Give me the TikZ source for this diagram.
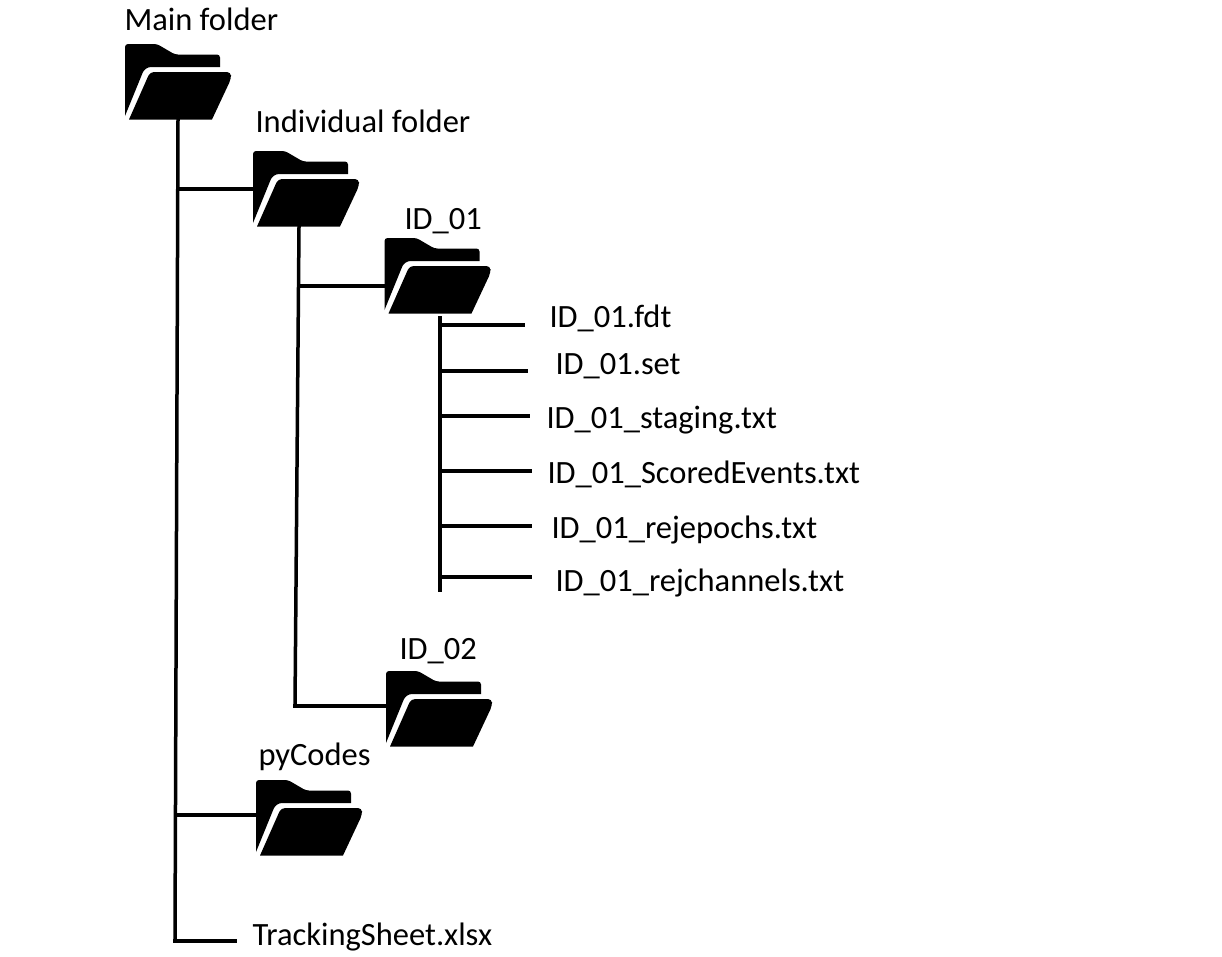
\documentclass[tikz,border=0pt]{standalone}
\usepackage{fontspec}
\setmainfont{Carlito}
\usetikzlibrary{positioning}
\newcommand{\foldericon}{%
    \fill[black] (-53,34) [rounded corners=3pt] -- (-53,-38) -- (-21,-38) -- (-3,-27.5) -- (42,-27.5) [sharp corners] -- (42,-15) [rounded corners=6pt] -- (-33,-15) [sharp corners] -- (-53,34) -- cycle;
    \fill[black] (-49,37.5) [rounded corners=4pt] -- (-28,-10) -- (53,-10) -- (53,-3) [sharp corners] -- (34,37.5) -- cycle;}
\tikzset{
    folder/.style={minimum width=106pt, minimum height=76pt, inner sep=0pt, outer sep=0pt, path picture={\foldericon}},
    label/.style={anchor=base west, inner sep=0pt, outer sep=0pt, font=\fontsize{32.5}{36}\selectfont},
    branch/.style={line width=3.5pt, line cap=rect}
}

\begin{document}
\begin{tikzpicture}[x=1pt, y=-1pt]
    \useasboundingbox (0,0) rectangle (1222,956);

    \node[folder] (main) at (178,82) {};
    \node[folder] (indiv) at (306,189) {};
    \node[folder] (idone) at (437.5,276) {};
    \node[folder] (idtwo) at (439,709) {};
    \node[folder] (py) at (309,818) {};

    \node[label] (mainl) at (124.5,30) {Main folder};
    \node[label] (indivl) at (255.5,132) {Individual folder};
    \node[label] (idonel) at (404.5,229) {ID\_01};
    \node[label] (fdt) at (549.5,327) {ID\_01.fdt};
    \node[label] (set) at (555.5,374) {ID\_01.set};
    \node[label] (staging) at (546.5,428) {ID\_01\_staging.txt};
    \node[label] (events) at (547.5,483) {ID\_01\_ScoredEvents.txt};
    \node[label] (rejep) at (551.5,538) {ID\_01\_rejepochs.txt};
    \node[label] (rejch) at (555.5,591) {ID\_01\_rejchannels.txt};
    \node[label] (idtwol) at (399.5,659) {ID\_02};
    \node[label] (pyl) at (258.5,765) {pyCodes};
    \node[label] (sheet) at (252.5,945) {TrackingSheet.xlsx};

    % main trunk
    \coordinate (mainend) at (175,941);
    \coordinate (sheetend) at (235,941);
    \coordinate (mainone) at (178,189);
    \coordinate (maintwo) at (177,815);
    % individual folder trunk
    \coordinate (indivstart) at (299,227);
    \coordinate (indivone) at (299,286);
    \coordinate (indivend) at (295,706);
    % files
    \coordinate (filestart) at (440,318);
    \coordinate (fileend) at (440,590);
    \coordinate (fa) at (440,325);
    \coordinate (fb) at (441,371);
    \coordinate (fc) at (441,416);
    \coordinate (fd) at (441,471);
    \coordinate (fe) at (441,526);
    \coordinate (ff) at (441,577);
    \coordinate (ea) at (523,325);
    \coordinate (eb) at (526,371);
    \coordinate (ec) at (528,416);
    \coordinate (ed) at (530,471);
    \coordinate (ee) at (530,526);
    \coordinate (ef) at (530,577);

    \path[branch] (main.south) edge (mainend)
          (mainend) edge (sheetend)
          (mainone) edge (indiv.west)
          (maintwo) edge (maintwo -| py.west)
          (indivstart) edge (indivend)
          (indivend) edge (indivend -| idtwo.west)
          (indivone) edge (indivone -| idone.west)
          (filestart) edge (fileend)
          (fa) edge (ea)
          (fb) edge (eb)
          (fc) edge (ec)
          (fd) edge (ed)
          (fe) edge (ee)
          (ff) edge (ef);
\end{tikzpicture}
\end{document}
